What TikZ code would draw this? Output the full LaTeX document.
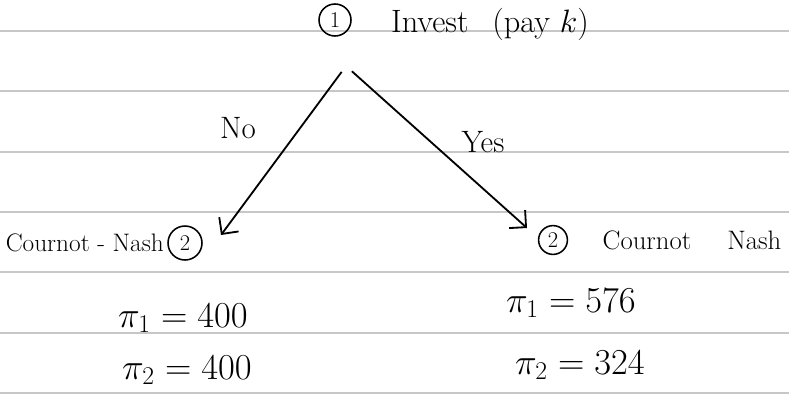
\RequirePackage{fix-cm}
\documentclass[tikz,border=0pt]{standalone}
\usetikzlibrary{arrows.meta}
\begin{document}
\begin{tikzpicture}[every node/.style={font=\fontsize{19}{23}\selectfont},
    num/.style={draw, circle, line width=1.1pt, inner sep=0pt, minimum size=0.72cm, font=\fontsize{16}{19}\selectfont},
    pay/.style={font=\fontsize{26}{30}\selectfont},
    rule/.style={black!22, line width=0.8pt}]
  \useasboundingbox (0,0) rectangle (19.725,-10.075);
  % Ruled paper
  \foreach \y in {0.775,2.275,3.8,5.3,6.8,8.325,9.825}
    \draw[rule] (0,-\y) -- (19.725,-\y);
  % Level 0
  \node[num, minimum size=0.8cm] (one) at (8.375,-0.5) {1};
  \node[font=\fontsize{23}{27}\selectfont] (invest) at (12.25,-0.6) {Invest\hspace{0.6cm}(pay $k$)};
  \node[inner sep=4pt] (root) at (8.65,-1.65) {};
  % Level 1
  \node[font=\fontsize{22}{26}\selectfont] (no) at (5.95,-3.2) {No};
  \node[font=\fontsize{22}{26}\selectfont] (yes) at (12.075,-3.55) {Yes};
  \coordinate (noTip) at (5.525,-5.875);
  \coordinate (yesTip) at (13.175,-5.7);
  % Level 2, left
  \node[font=\fontsize{18}{22}\selectfont] (cnL) at (2.12,-6.075) {Cournot - Nash};
  \node[num, minimum size=0.85cm] (twoL) at (4.625,-6.075) {2};
  \node[pay] (piOneL) at (4.575,-7.95) {$\pi_1 = 400$};
  \node[pay] (piTwoL) at (4.675,-9.25) {$\pi_2 = 400$};
  % Level 2, right
  \node[num] (twoR) at (13.825,-6.0) {2};
  \node (cnR) at (17.3,-6.0) {Cournot\hspace{0.9cm}Nash};
  \node[pay] (piOneR) at (14.275,-7.575) {$\pi_1 = 576$};
  \node[pay] (piTwoR) at (14.5,-9.125) {$\pi_2 = 324$};
  % Edges
  \foreach \x/\y in {root/noTip,root/yesTip}
    \draw[line width=1.3pt, -{Straight Barb[length=3mm,width=6mm]}] (\x)--(\y);
\end{tikzpicture}
\end{document}
